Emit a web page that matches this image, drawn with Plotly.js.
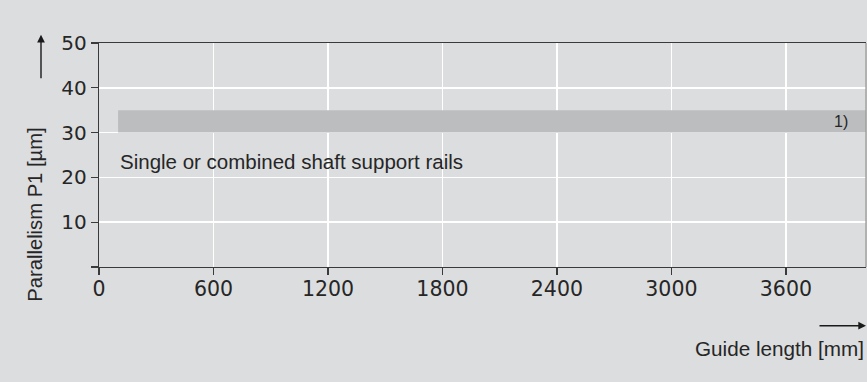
<!DOCTYPE html>
<html>
<head>
<meta charset="utf-8">
<script src="https://cdn.plot.ly/plotly-3.0.1.min.js"></script>
<style>html,body{margin:0;padding:0;background:#dcdddf;}</style>
</head>
<body>
<div id="chart" style="width:867px;height:382px;"></div>
<script>
// Data
var xTickVals = [0, 600, 1200, 1800, 2400, 3000, 3600];
var yTickVals = [0, 10, 20, 30, 40, 50];
var yTickText = ["", "10", "20", "30", "40", "50"];
var bandX = [100, 4100, 4100, 100, 100];
var bandY = [30, 30, 35, 35, 30];
var bandLabel = "1)";
var bandText = "Single or combined shaft support rails";
var textX = 100, textY = 23.6;
var labelX = 3935, labelY = 32.5;

var FONT = "Liberation Sans, Arial, sans-serif";
var TICKFONT = "DejaVu Sans, sans-serif";
var TXT = "#262626";

var traces = [{
  type: "scatter", mode: "lines",
  x: bandX, y: bandY,
  fill: "toself", fillcolor: "#bcbdbf",
  line: {width: 0, color: "rgba(0,0,0,0)"},
  hoverinfo: "skip", showlegend: false
}];

var layout = {
  width: 867, height: 382,
  margin: {l: 99, r: 1, t: 43, b: 115, pad: 0},
  paper_bgcolor: "#dcdddf",
  plot_bgcolor: "#dcdddf",
  showlegend: false,
  font: {family: FONT, size: 20, color: TXT},
  xaxis: {
    range: [0, 4020], tickvals: xTickVals,
    ticktext: xTickVals.map(String),
    showgrid: true, gridcolor: "#ffffff", gridwidth: 1.5,
    zeroline: false,
    showline: true, linecolor: "#3a3a3a", linewidth: 1.3, mirror: true,
    ticks: "outside", ticklen: 7, tickwidth: 1.3, tickcolor: "#3a3a3a",
    ticklabelstandoff: -4,
    tickfont: {family: TICKFONT, size: 20.5, color: TXT},
    fixedrange: true
  },
  yaxis: {
    range: [0, 50], tickvals: yTickVals, ticktext: yTickText,
    showgrid: true, gridcolor: "#ffffff", gridwidth: 1.5,
    zeroline: false,
    showline: true, linecolor: "#3a3a3a", linewidth: 1.3,
    ticks: "outside", ticklen: 7, tickwidth: 1.3, tickcolor: "#3a3a3a",
    tickfont: {family: TICKFONT, size: 20, color: TXT},
    fixedrange: true
  },
  shapes: [{
    type: "line", xref: "paper", yref: "paper",
    x0: 1, x1: 1, y0: 0, y1: 1,
    line: {color: "#9a9a9a", width: 1.3}
  }],
  annotations: [
    {xref: "x", yref: "y", x: textX, y: textY, text: bandText,
     showarrow: false, xanchor: "left", yanchor: "middle",
     font: {family: FONT, size: 20.5, color: TXT}},
    {xref: "x", yref: "y", x: labelX, y: labelY, text: bandLabel,
     showarrow: false, xanchor: "right", yanchor: "middle",
     font: {family: FONT, size: 16, color: TXT}},
    {xref: "paper", yref: "paper", x: (35 - 99) / 767, y: (267.3 - 215) / 224,
     text: "Parallelism P1 [µm]", textangle: -90, showarrow: false,
     xanchor: "center", yanchor: "middle",
     font: {family: FONT, size: 20.2, color: TXT}},
    {xref: "paper", yref: "paper", x: 1, y: (267.3 - 349) / 224,
     text: "Guide length [mm]", showarrow: false,
     xanchor: "right", yanchor: "middle",
     font: {family: FONT, size: 20.7, color: TXT}},
    {xref: "paper", yref: "paper", x: (41 - 99) / 767, y: (267.3 - 35) / 224,
     text: "", showarrow: true, ax: 0, ay: 45, axref: "pixel", ayref: "pixel",
     arrowhead: 2, arrowsize: 1.1, arrowwidth: 1.4, arrowcolor: "#1a1a1a", standoff: 0},
    {xref: "paper", yref: "paper", x: (866 - 99) / 767, y: (267.3 - 326) / 224,
     text: "", showarrow: true, ax: -48, ay: 0, axref: "pixel", ayref: "pixel",
     arrowhead: 2, arrowsize: 1.1, arrowwidth: 1.4, arrowcolor: "#1a1a1a", standoff: 0}
  ]
};

Plotly.newPlot("chart", traces, layout, {displayModeBar: false, staticPlot: true});
</script>
</body>
</html>
